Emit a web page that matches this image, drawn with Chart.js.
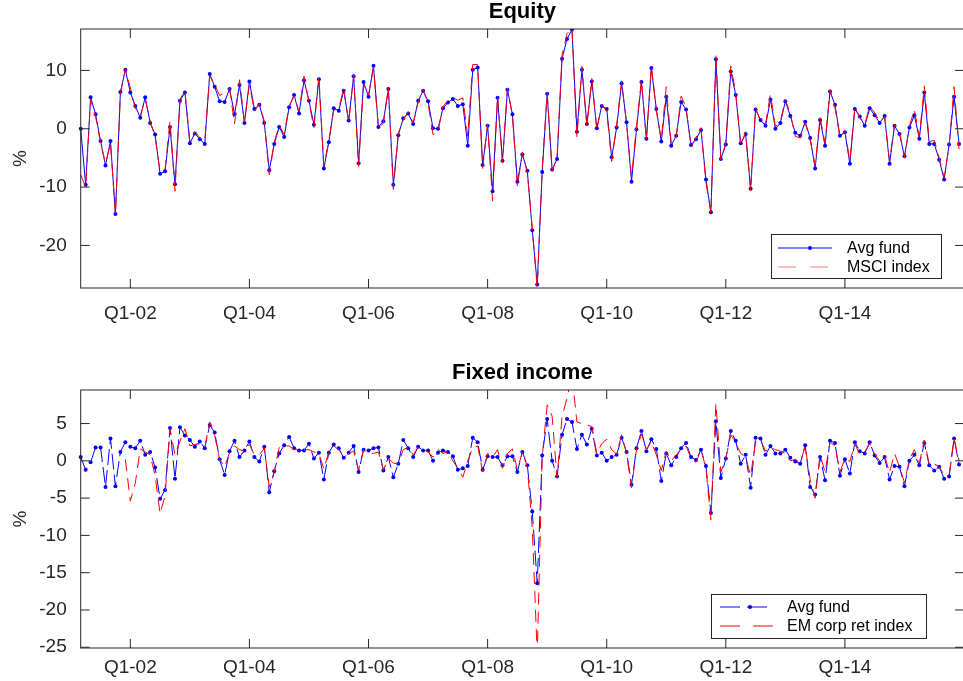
<!DOCTYPE html>
<html>
<head>
<meta charset="utf-8">
<script src="https://cdn.jsdelivr.net/npm/chart.js@4.4.1/dist/chart.umd.min.js"></script>
<style>
  html, body { margin: 0; padding: 0; background: #fff; overflow: hidden; }
  #wrap { position: relative; width: 963px; height: 681px; overflow: hidden; }
  canvas { position: absolute; left: 0; }
  #eq { top: 0; }
  #fi { top: 340px; }
</style>
</head>
<body>
<div id="wrap">
  <canvas id="eq" width="968" height="340"></canvas>
  <canvas id="fi" width="968" height="341"></canvas>
</div>
<script>
// monthly observations, Feb 2001 .. Nov 2015 (month-end dates); axis runs one month further
const months = [];
for (let k = 0; k < 179; k++) {
  const yr = 2001 + Math.floor((1 + k) / 12), mo = (1 + k) % 12 + 1;
  months.push(yr + '-' + String(mo).padStart(2, '0'));
}

// x ticks sit at the year boundary (31 Dec = 1 Jan)
const xTickMonths = ['2001-12', '2003-12', '2005-12', '2007-12', '2009-12', '2011-12', '2013-12'];
const xTickLabels = ['Q1-02', 'Q1-04', 'Q1-06', 'Q1-08', 'Q1-10', 'Q1-12', 'Q1-14'];
const eqTicks = [-20, -10, 0, 10];
const fiTicks = [-25, -20, -15, -10, -5, 0, 5];

// equity: average fund vs MSCI index (monthly return, %)
const eqFund = [
  0.0, -9.6, 5.4, 2.5, -2.1, -6.3, -2.1, -14.6, 6.3, 10.1, 6.2, 3.9, 1.9, 5.4, 1.0, -1.0, -7.7, -7.3, 0.3, -9.5,
  4.8, 6.2, -2.5, -0.8, -1.8, -2.6, 9.4, 7.2, 4.7, 4.6, 6.8, 2.5, 7.5, 1.0, 8.1, 3.4, 4.1, 1.0, -7.1, -2.6,
  0.3, -1.4, 3.7, 5.8, 2.6, 8.3, 4.8, 0.7, 8.5, -6.8, -2.3, 3.5, 3.1, 6.5, 1.4, 9.0, -5.9, 8.0, 5.5, 10.8,
  0.3, 1.3, 6.8, -9.6, -1.1, 1.8, 2.6, 0.8, 4.8, 6.5, 4.7, 0.1, 0.0, 3.5, 4.5, 5.1, 3.9, 4.2, -2.9, 10.1,
  10.5, -6.2, 0.5, -10.7, 5.3, -5.5, 6.7, 2.5, -9.1, -4.4, -7.2, -17.4, -26.7, -7.4, 6.0, -7.0, -5.2, 12.0, 15.4, 17.0,
  -0.5, 10.1, 0.8, 8.1, 0.1, 3.9, 3.4, -4.9, 0.2, 7.8, 1.1, -9.1, -0.1, 8.0, -1.7, 10.4, 3.4, -2.2, 5.5, -2.9,
  -1.2, 4.6, 3.3, -2.8, -1.8, -0.2, -8.7, -14.3, 11.9, -5.2, -2.7, 9.8, 5.8, -2.5, -0.9, -10.3, 3.3, 1.5, 0.5, 5.0,
  0.0, 1.0, 4.7, 2.2, -0.7, -1.2, 1.2, -1.6, -6.8, 1.5, -2.9, 6.4, 4.1, -1.2, -0.6, -6.0, 3.4, 2.1, 0.5, 3.5,
  2.3, 1.0, 2.2, -6.0, 0.5, -0.9, -4.7, 0.2, 2.3, -1.7, 6.2, -2.6, -2.6, -5.3, -8.7, -2.7, 5.5, -2.6
];
const eqIndex = [
  -7.9, -10.0, 5.0, 2.0, -2.4, -6.0, -2.5, -14.8, 6.0, 10.3, 7.0, 3.5, 2.2, 5.0, 1.3, -1.5, -7.4, -7.0, 1.5, -10.7,
  5.0, 6.6, -2.2, -0.5, -1.5, -2.0, 9.1, 7.5, 5.7, 6.2, 6.9, 0.8, 8.4, 1.2, 7.6, 3.0, 4.3, 1.3, -7.9, -2.3,
  0.6, -1.0, 3.9, 5.6, 3.0, 9.0, 4.5, 0.2, 9.0, -6.4, -2.0, 3.2, 3.4, 7.0, 1.0, 9.2, -6.5, 7.6, 5.8, 10.5,
  0.0, 1.0, 7.0, -10.4, -0.8, 1.5, 2.9, 1.0, 4.5, 6.8, 4.3, -1.0, -0.5, 3.8, 4.8, 5.3, 4.9, 5.3, -1.3, 11.0,
  11.0, -6.8, 0.8, -12.4, 5.6, -5.8, 7.0, 2.2, -9.9, -4.0, -7.5, -17.0, -27.3, -7.0, 6.3, -7.3, -4.9, 12.6, 16.3, 17.2,
  -1.5, 10.7, 0.5, 8.6, -0.2, 4.2, 3.0, -5.6, 0.6, 8.2, 0.8, -8.2, 0.3, 8.4, -2.0, 10.9, 3.0, -1.8, 7.2, -2.5,
  -1.5, 5.6, 3.6, -3.2, -1.5, 0.2, -9.2, -14.5, 12.6, -5.4, -2.4, 10.8, 6.2, -2.9, -0.5, -10.6, 3.6, 1.2, 0.8, 6.0,
  0.3, 1.3, 5.0, 2.6, -1.3, -1.6, 1.0, -1.9, -6.3, 1.9, -2.5, 6.7, 3.6, -1.5, -0.3, -5.6, 3.8, 1.8, 0.8, 3.9,
  2.7, 1.3, 2.0, -5.6, 0.8, -0.5, -5.0, 0.5, 3.2, -1.4, 7.3, -2.2, -2.0, -5.0, -8.4, -3.0, 7.2, -3.5
];

// fixed income: average fund vs EM corporate return index (monthly return, %)
const fiFund = [
  0.5, -1.2, -0.2, 1.8, 1.8, -3.5, 3.0, -3.4, 1.2, 2.5, 1.9, 1.7, 2.7, 0.8, 1.2, -0.9, -5.1, -3.9, 4.4, -2.4,
  4.5, 3.4, 2.8, 1.9, 2.6, 1.7, 4.8, 3.8, 0.2, -1.9, 1.3, 2.7, 0.5, 1.4, 2.6, 0.5, -0.1, 1.9, -4.2, -1.4,
  1.0, 2.1, 3.2, 1.7, 1.4, 1.4, 2.3, 0.3, 1.1, -2.5, 1.1, 2.2, 1.7, 0.4, 1.1, 2.0, -1.5, 1.5, 1.4, 1.7,
  1.8, -1.3, 0.5, -2.2, -0.4, 2.8, 1.7, 0.5, 1.9, 1.4, 1.4, 0.0, 1.1, 1.4, 1.2, 0.6, -1.2, -1.0, -0.7, 3.1,
  2.5, -1.2, 0.6, 0.5, 0.5, -0.6, 0.6, 0.6, -1.5, 1.2, -0.6, -6.8, -16.4, 0.7, 5.6, 0.0, -2.1, 3.5, 5.6, 5.2,
  1.6, 3.5, 2.2, 4.3, 0.7, 1.1, 0.0, 0.5, 0.8, 3.1, 1.2, -3.2, 1.7, 4.0, 1.3, 2.9, 1.6, -2.7, 1.0, -0.6,
  0.5, 1.7, 2.4, 0.5, 0.1, 1.5, -0.7, -7.0, 5.3, -2.3, 0.3, 4.0, 2.7, -0.4, 0.8, -3.6, 3.1, 3.0, 0.8, 2.0,
  1.0, 1.0, 1.5, 0.4, -0.1, -0.4, 2.1, -3.5, -4.5, 0.5, -2.6, 2.7, 2.4, -2.0, 0.2, -1.7, 2.5, 1.3, 1.0, 2.5,
  0.7, -0.3, 0.5, -2.5, -0.7, -0.8, -3.4, 0.0, 0.8, -0.6, 2.4, -0.6, -1.3, -0.8, -2.4, -2.1, 3.0, -0.5
];
const fiIndex = [
  null, null, null, null, null, null, null, null, null, 0.2, -5.4, -3.0, 1.6, 1.2, 0.8, -2.0, -7.1, -4.7, 4.3, 0.8,
  2.6, 4.3, 2.0, 2.2, 2.3, 1.8, 5.2, 3.4, 0.2, -0.8, 1.1, 2.0, 1.5, 1.3, 2.2, 0.8, 0.8, 1.7, -3.5, -1.5,
  1.8, 2.0, 2.0, 1.5, 1.6, 1.5, 1.5, 1.2, 1.0, -1.1, 1.2, 2.0, 1.5, 0.6, 1.0, 1.3, -1.2, 1.5, 1.0, 1.0,
  1.2, -1.2, 0.3, -0.3, -0.4, 1.5, 1.8, 0.8, 1.8, 1.5, 1.2, 0.5, 1.5, 1.0, 1.2, 0.0, -1.0, -2.2, 0.0, 1.8,
  2.0, -1.5, 1.0, 0.5, 1.5, -1.0, 1.0, 1.6, -1.2, 1.2, -0.8, -9.0, -26.0, 0.5, 7.5, 6.0, -2.3, 5.9, 8.4, 11.5,
  5.2, 5.0, 4.8, 4.6, 1.0, 2.3, 2.9, 1.5, 0.9, 3.5, 1.0, -3.6, 1.5, 3.6, 1.5, 2.6, 0.8, -1.3, 1.3, 0.0,
  0.8, 1.6, 2.0, 0.3, -0.2, 1.5, -1.0, -7.9, 7.7, -1.5, 0.3, 3.5, 2.4, 1.0, 0.5, -2.0, 2.5, 2.8, 1.3, 1.8,
  1.5, 1.3, 1.0, 0.0, 0.2, -0.3, 2.0, -2.5, -5.0, 0.8, -1.5, 2.5, 2.0, -1.5, 0.3, -0.1, 2.3, 0.8, 1.2, 2.3,
  0.9, 0.0, 0.7, -1.6, 1.0, -0.8, -2.9, 0.2, 1.5, -0.3, 2.8, -0.5, -0.4, -0.8, -1.9, -1.9, 3.0, 0.0
];

const FONT = "'Liberation Sans', Arial, Helvetica, sans-serif";
const AXIS = '#262626';

// box, inward ticks, title and legend in the MATLAB look
const frame = {
  id: 'frame',
  afterDraw(chart, args, o) {
    const { ctx, chartArea: a, scales: { x, y } } = chart;
    ctx.save();
    ctx.strokeStyle = AXIS;
    ctx.lineWidth = 1;
    ctx.setLineDash([]);
    ctx.strokeRect(a.left, a.top, a.right - a.left, a.bottom - a.top);
    ctx.beginPath();
    xTickMonths.forEach(m => {
      const px = x.getPixelForValue(months.indexOf(m));
      ctx.moveTo(px, a.bottom); ctx.lineTo(px, a.bottom - 9);
      ctx.moveTo(px, a.top); ctx.lineTo(px, a.top + 9);
    });
    o.yTicks.forEach(v => {
      const py = y.getPixelForValue(v);
      ctx.moveTo(a.left, py); ctx.lineTo(a.left + 9, py);
      ctx.moveTo(a.right, py); ctx.lineTo(a.right - 9, py);
    });
    ctx.stroke();

    ctx.fillStyle = '#000';
    ctx.font = 'bold 22px ' + FONT;
    ctx.textAlign = 'center';
    ctx.textBaseline = 'middle';
    ctx.fillText(o.title, (a.left + a.right) / 2, o.titleY);

    const L = o.legend;
    ctx.fillStyle = '#fff';
    ctx.fillRect(L.x, L.y, L.w, L.h);
    ctx.strokeStyle = AXIS;
    ctx.strokeRect(L.x + 0.5, L.y + 0.5, L.w, L.h);
    ctx.font = '16px ' + FONT;
    ctx.textAlign = 'left';
    L.rows.forEach((r, i) => {
      const ry = L.y + L.rowY[i];
      ctx.strokeStyle = r.color;
      ctx.setLineDash(r.dash);
      ctx.beginPath();
      ctx.moveTo(L.x + L.line[0], ry); ctx.lineTo(L.x + L.line[1], ry);
      ctx.stroke();
      ctx.setLineDash([]);
      if (r.marker) {
        ctx.fillStyle = r.marker;
        ctx.beginPath();
        ctx.arc(L.x + L.dotX, ry, 2, 0, Math.PI * 2);
        ctx.fill();
      }
      ctx.fillStyle = '#000';
      ctx.fillText(r.label, L.x + L.textX, ry + 1);
    });
    ctx.restore();
  }
};

function makeChart(id, cfg) {
  return new Chart(document.getElementById(id), {
    type: 'line',
    data: {
      labels: months,
      datasets: [
        { label: cfg.idxLabel, data: cfg.idx, borderColor: '#ff0000', borderWidth: 1,
          borderDash: [12, 7], pointRadius: 0, tension: 0, order: 0 },
        { label: 'Avg fund', data: cfg.fund, borderColor: '#0000ff', borderWidth: 1,
          borderDash: cfg.fundDash, pointRadius: 2, pointBackgroundColor: '#0000ff',
          pointBorderWidth: 0, tension: 0, order: 1 }
      ]
    },
    options: {
      responsive: false,
      animation: false,
      layout: { padding: { top: cfg.padTop, right: 0.9, left: 0, bottom: 0 } },
      plugins: {
        legend: { display: false },
        tooltip: { enabled: false },
        frame: { title: cfg.title, titleY: cfg.titleY, yTicks: cfg.yTicks, legend: cfg.legend }
      },
      scales: {
        x: {
          type: 'category', offset: false,
          grid: { display: false, drawTicks: false }, border: { display: false },
          ticks: {
            autoSkip: false, maxRotation: 0, minRotation: 0, padding: cfg.xPad,
            color: AXIS, font: { family: FONT, size: 19 },
            callback: (v, i) => {
              const j = xTickMonths.indexOf(months[i]);
              return j >= 0 ? xTickLabels[j] : null;
            }
          },
          afterFit: s => { s.height = cfg.xHeight; s.paddingLeft = 0; s.paddingRight = 0; }
        },
        y: {
          min: cfg.yMin, max: cfg.yMax,
          grid: { display: false, drawTicks: false }, border: { display: false },
          afterBuildTicks: s => { s.ticks = cfg.yTicks.map(v => ({ value: v })); },
          ticks: { color: AXIS, font: { family: FONT, size: 19 }, padding: 14 },
          title: { display: true, text: '%', color: AXIS, font: { family: FONT, size: 19 },
                   padding: { top: 9, bottom: 0 } },
          afterFit: s => { s.width = 80.7; }
        }
      }
    },
    plugins: [frame]
  });
}

makeChart('eq', {
  title: 'Equity', titleY: 12, padTop: 29, xHeight: 52, xPad: 14,
  yMin: -27.3, yMax: 17.1, yTicks: eqTicks,
  fund: eqFund, idx: eqIndex, idxLabel: 'MSCI index', fundDash: [],
  legend: { x: 771, y: 234, w: 170, h: 44, rowY: [14, 33], line: [7, 61], dotX: 39, textX: 76,
    rows: [
      { label: 'Avg fund', color: '#0000ff', dash: [], marker: '#0000ff' },
      { label: 'MSCI index', color: '#ff7f7f', dash: [18, 14] }
    ] }
});

makeChart('fi', {
  title: 'Fixed income', titleY: 33, padTop: 50, xHeight: 33, xPad: 8,
  yMin: -25.1, yMax: 9.5, yTicks: fiTicks,
  fund: fiFund, idx: fiIndex, idxLabel: 'EM corp ret index', fundDash: [16, 5],
  legend: { x: 711, y: 254, w: 215, h: 44, rowY: [13, 32], line: [9, 62], dotX: 39, textX: 76,
    rows: [
      { label: 'Avg fund', color: '#0000ff', dash: [20, 7], marker: '#0000ff' },
      { label: 'EM corp ret index', color: '#ff0000', dash: [20, 13] }
    ] }
});
</script>
</body>
</html>
